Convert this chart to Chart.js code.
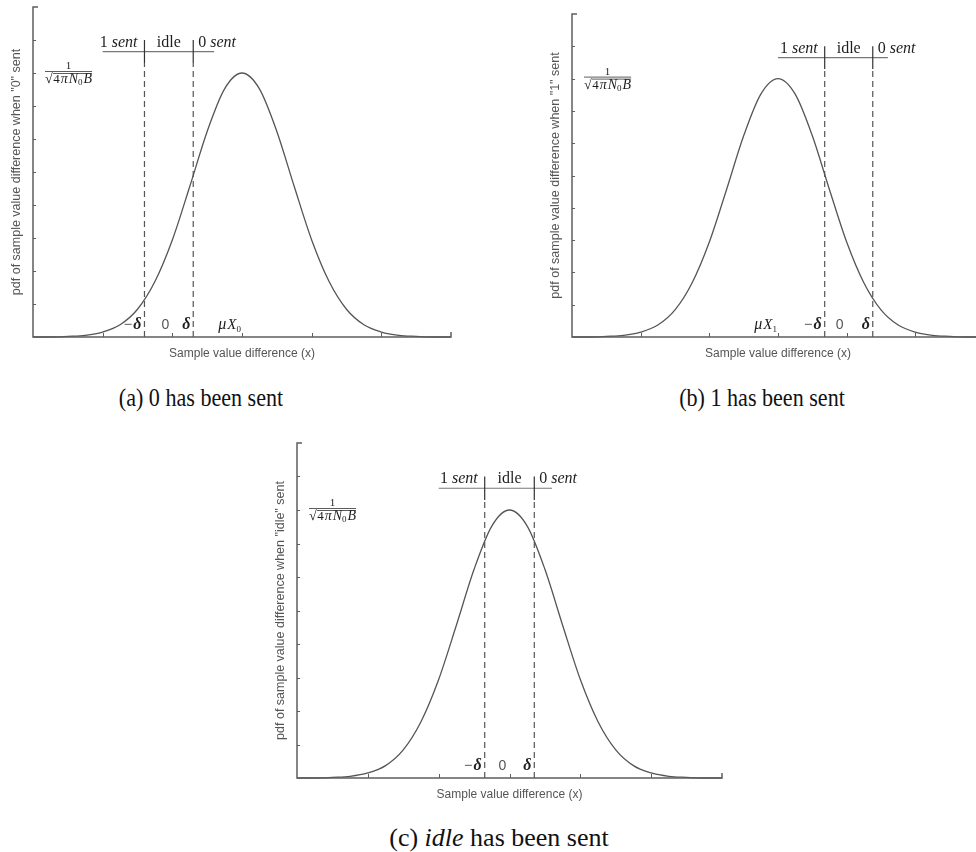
<!DOCTYPE html>
<html>
<head>
<meta charset="utf-8">
<script src="https://cdn.jsdelivr.net/npm/chart.js@4.4.1/dist/chart.umd.min.js"></script>
<style>
  html, body { margin: 0; padding: 0; background: #fff; }
  body { width: 976px; height: 852px; position: relative; overflow: hidden; }
  canvas { position: absolute; }
  .cap {
    position: absolute;
    font-family: "Liberation Serif", "Times New Roman", serif;
    font-size: 26px;
    color: #111;
    white-space: nowrap;
    line-height: 1;
    transform: translate(-50%, -50%);
  }
  .cap.narrow { transform: translate(-50%, -50%) scaleX(0.85); }
</style>
</head>
<body>
<canvas id="pdf0" width="520" height="370" style="left:0;top:0"></canvas>
<canvas id="pdf1" width="460" height="370" style="left:540px;top:0"></canvas>
<canvas id="pdfIdle" width="500" height="390" style="left:250px;top:420px"></canvas>
<div class="cap narrow" style="left:201px;top:398px">(a) 0 has been sent</div>
<div class="cap narrow" style="left:762px;top:398px">(b) 1 has been sent</div>
<div class="cap" style="left:499px;top:838px">(c) <i>idle</i> has been sent</div>

<script>
// sample value difference (x) and pdf readings, one pair per transmitted symbol
const xSent0 = [-2, -1.75, -1.5, -1.25, -1, -0.75, -0.5, -0.25, 0, 0.25, 0.5, 0.75, 1,
                1.25, 1.5, 1.75, 2, 2.25, 2.5, 2.75, 3, 3.25, 3.5, 3.75, 4];
const pdfSent0 = [0, 0, 0.02, 0.05, 0.15, 0.37, 0.84, 1.68, 2.94, 4.56, 6.23, 7.52, 8,
                  7.52, 6.23, 4.56, 2.94, 1.68, 0.84, 0.37, 0.15, 0.05, 0.02, 0, 0];

const xSent1 = [-4, -3.75, -3.5, -3.25, -3, -2.75, -2.5, -2.25, -2, -1.75, -1.5, -1.25, -1,
                -0.75, -0.5, -0.25, 0, 0.25, 0.5, 0.75, 1, 1.25, 1.5, 1.75, 2];
const pdfSent1 = [0, 0, 0.02, 0.05, 0.15, 0.37, 0.84, 1.68, 2.94, 4.56, 6.23, 7.52, 8,
                  7.52, 6.23, 4.56, 2.94, 1.68, 0.84, 0.37, 0.15, 0.05, 0.02, 0, 0];

const xIdle = [-3, -2.75, -2.5, -2.25, -2, -1.75, -1.5, -1.25, -1, -0.75, -0.5, -0.25, 0,
               0.25, 0.5, 0.75, 1, 1.25, 1.5, 1.75, 2, 2.25, 2.5, 2.75, 3];
const pdfIdle = [0, 0, 0.02, 0.05, 0.15, 0.37, 0.84, 1.68, 2.94, 4.56, 6.23, 7.52, 8,
                 7.52, 6.23, 4.56, 2.94, 1.68, 0.84, 0.37, 0.15, 0.05, 0.02, 0, 0];

// decision thresholds -delta / +delta
const deltaSent0 = [-0.4, 0.3];
const deltaSent1 = [-0.32, 0.38];
const deltaIdle = [-0.35, 0.35];

// mean of each pdf (no mean label for idle)
const meanSent0 = 1;
const meanSent1 = -1;

const peakValue = 8;

const SERIF = '"Liberation Serif", "Times New Roman", serif';
const SANS = '"Liberation Sans", Arial, sans-serif';

// draw a row of differently styled text pieces: [text, font, dy, extraGap]
function drawRuns(ctx, parts, x, y, align) {
  let w = 0;
  parts.forEach(p => { ctx.font = p[1]; w += ctx.measureText(p[0]).width + (p[3] || 0); });
  let cx = align === 'right' ? x - w : align === 'center' ? x - w / 2 : x;
  const start = cx;
  parts.forEach(p => {
    ctx.font = p[1];
    ctx.fillText(p[0], cx, y + (p[2] || 0));
    cx += ctx.measureText(p[0]).width + (p[3] || 0);
  });
  return { start, end: cx };
}

const decor = {
  id: 'decor',
  afterDatasetsDraw(chart, args, o) {
    const { ctx, chartArea: a, scales: { x, y } } = chart;
    ctx.save();

    // axes with short inward ticks
    ctx.strokeStyle = '#5e5e5e';
    ctx.lineWidth = 1.5;
    ctx.beginPath();
    ctx.moveTo(a.left + 5, a.top);
    ctx.lineTo(a.left, a.top);
    ctx.lineTo(a.left, a.bottom);
    ctx.lineTo(a.right, a.bottom);
    ctx.lineTo(a.right, a.bottom - 5);
    ctx.stroke();
    ctx.lineWidth = 1;
    ctx.beginPath();
    y.ticks.forEach(t => {
      if (t.value <= y.min || t.value >= y.max) return;
      const py = Math.round(y.getPixelForValue(t.value)) + 0.5;
      ctx.moveTo(a.left, py);
      ctx.lineTo(a.left + 3, py);
    });
    x.ticks.forEach(t => {
      if (t.value <= x.min || t.value >= x.max) return;
      const px = Math.round(x.getPixelForValue(t.value)) + 0.5;
      ctx.moveTo(px, a.bottom);
      ctx.lineTo(px, a.bottom - 4);
    });
    ctx.stroke();

    // axis titles
    ctx.fillStyle = '#555';
    ctx.font = '12px ' + SANS;
    ctx.textAlign = 'center';
    ctx.textBaseline = 'middle';
    ctx.fillText('Sample value difference (x)', (a.left + a.right) / 2, a.bottom + 17);
    ctx.save();
    ctx.translate(a.left - 16, (a.top + a.bottom) / 2);
    ctx.rotate(-Math.PI / 2);
    ctx.font = '12.5px ' + SANS;
    ctx.fillText(o.yTitle, 0, 0);
    ctx.restore();

    ctx.textAlign = 'left';
    ctx.textBaseline = 'alphabetic';
    ctx.fillStyle = '#1e1e1e';

    // 1 / sqrt(4 pi N0 B) beside the peak level
    const barY = y.getPixelForValue(peakValue) - 2;
    const fl = a.left + 12;
    const den = drawRuns(ctx, [
      ['\u221A', '14px ' + SERIF, 0, 0.5],
      ['4', '13px ' + SERIF, 0, 1],
      ['\u03C0', 'italic 14px ' + SERIF, 0, 1],
      ['N', 'italic 14px ' + SERIF, 0, 0],
      ['0', '9px ' + SERIF, 2, 1],
      ['B', 'italic 14px ' + SERIF, 0, 0]
    ], fl, barY + 12, 'left');
    ctx.strokeStyle = '#333';
    ctx.lineWidth = 0.8;
    ctx.beginPath();
    ctx.moveTo(den.start, barY + 0.5);
    ctx.lineTo(den.end, barY + 0.5);
    ctx.moveTo(den.start + 8, barY + 2.5);
    ctx.lineTo(den.end, barY + 2.5);
    ctx.stroke();
    ctx.font = '11px ' + SERIF;
    ctx.textAlign = 'center';
    ctx.fillText('1', (den.start + den.end) / 2, barY - 2);
    ctx.textAlign = 'left';

    // decision regions above the plot
    const dl = x.getPixelForValue(o.delta[0]);
    const dr = x.getPixelForValue(o.delta[1]);
    const topY = y.getPixelForValue(o.bracket) - 5;
    drawRuns(ctx, [['1 ', '16px ' + SERIF], ['sent', 'italic 16px ' + SERIF]], dl - 7, topY, 'right');
    drawRuns(ctx, [['idle', '16px ' + SERIF]], (dl + dr) / 2, topY, 'center');
    drawRuns(ctx, [['0 ', '16px ' + SERIF], ['sent', 'italic 16px ' + SERIF]], dr + 5, topY, 'left');

    // threshold labels along the axis
    const baseY = a.bottom - 8;
    drawRuns(ctx, [['\u2212', '15px ' + SERIF, 0, 1], ['\u03B4', 'italic bold 16px ' + SERIF]], dl - 3, baseY, 'right');
    drawRuns(ctx, [['\u03B4', 'italic bold 16px ' + SERIF]], dr - 7, baseY, 'center');
    ctx.fillStyle = '#555';
    drawRuns(ctx, [['0', '14px ' + SANS]], x.getPixelForValue(0) - 7, baseY, 'center');
    ctx.fillStyle = '#1e1e1e';
    if (o.mean !== null) {
      drawRuns(ctx, [
        ['\u03BC', 'italic 16px ' + SERIF, 0, 1],
        ['X', 'italic 15px ' + SERIF, 0, 0],
        [o.meanSub, '9px ' + SERIF, 3, 0]
      ], x.getPixelForValue(o.mean) - 1, baseY, 'right');
    }
    ctx.restore();
  }
};

function buildPanel(id, xs, ys, range, delta, mean, meanSub, yTitle, pad) {
  const upper = 8.3, top = 9.0, bracket = 8.65, span = [-1.0, 0.6];
  const dashed = { borderColor: '#555', borderWidth: 1.2, borderDash: [6, 4], pointRadius: 0 };
  const solid = { borderColor: '#333', borderWidth: 1.2, pointRadius: 0 };
  return new Chart(document.getElementById(id), {
    type: 'line',
    data: {
      datasets: [
        { data: xs.map((v, i) => ({ x: v, y: ys[i] })), borderColor: '#555', borderWidth: 1.3,
          pointRadius: 0, cubicInterpolationMode: 'monotone', clip: false },
        { ...dashed, data: [{ x: delta[0], y: 0 }, { x: delta[0], y: upper }] },
        { ...dashed, data: [{ x: delta[1], y: 0 }, { x: delta[1], y: upper }] },
        { ...solid, data: [{ x: delta[0], y: upper }, { x: delta[0], y: top }] },
        { ...solid, data: [{ x: delta[1], y: upper }, { x: delta[1], y: top }] },
        { borderColor: '#777', borderWidth: 1.2, pointRadius: 0,
          data: [{ x: span[0], y: bracket }, { x: span[1], y: bracket }] }
      ]
    },
    options: {
      responsive: false,
      animation: false,
      events: [],
      layout: { padding: pad },
      plugins: {
        legend: { display: false },
        tooltip: { enabled: false },
        decor: { delta, mean, meanSub, yTitle, bracket }
      },
      scales: {
        x: { type: 'linear', min: range[0], max: range[1], display: false, ticks: { stepSize: 1 } },
        y: { min: 0, max: 10, display: false, ticks: { stepSize: 1 } }
      }
    },
    plugins: [decor]
  });
}

buildPanel('pdf0', xSent0, pdfSent0, [-2, 4], deltaSent0, meanSent0, '0',
  'pdf of sample value difference when "0" sent', { left: 33, right: 69, top: 7, bottom: 33 });
buildPanel('pdf1', xSent1, pdfSent1, [-4, 2], deltaSent1, meanSent1, '1',
  'pdf of sample value difference when "1" sent', { left: 32, right: 16, top: 14, bottom: 33 });
buildPanel('pdfIdle', xIdle, pdfIdle, [-3, 3], deltaIdle, null, '',
  'pdf of sample value difference when "idle" sent', { left: 47, right: 28, top: 23, bottom: 32 });
</script>
</body>
</html>
